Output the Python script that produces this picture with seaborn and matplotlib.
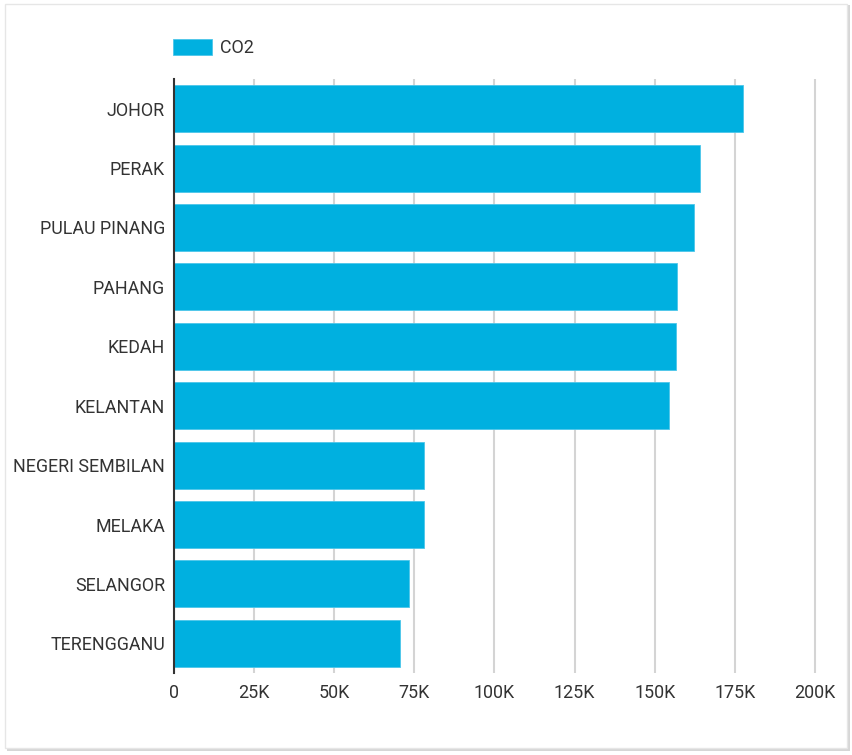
import matplotlib
matplotlib.use("Agg")
import matplotlib.pyplot as plt
import matplotlib.patches as mpatches
import seaborn as sns
import pandas as pd
from matplotlib.ticker import FuncFormatter

states = ["JOHOR", "PERAK", "PULAU PINANG", "PAHANG", "KEDAH", "KELANTAN",
          "NEGERI SEMBILAN", "MELAKA", "SELANGOR", "TERENGGANU"]
co2 = [177600, 164100, 162200, 157000, 156600, 154600, 77900, 77900, 73200, 70400]
series_name = "CO2"

df = pd.DataFrame({"state": states, "value": co2})

sns.set_theme(style="white")
plt.rcParams["font.family"] = ["Roboto", "DejaVu Sans"]

W, H = 852, 755
fig = plt.figure(figsize=(W / 100, H / 100), dpi=100)
fig.patch.set_facecolor("white")

# card with shadow
shadow = mpatches.Rectangle((7 / W, 1 - 751 / H), 843 / W, 746 / H, transform=fig.transFigure,
                            facecolor="#d6d6d6", edgecolor="none", zorder=0)
card = mpatches.Rectangle((5 / W, 1 - 748 / H), 842 / W, 744 / H, transform=fig.transFigure,
                          facecolor="white", edgecolor="#e6e6e6", linewidth=1, zorder=1)
fig.patches.extend([shadow, card])

left, right, top, bottom = 174, 825, 79, 673
ax = fig.add_axes([left / W, 1 - bottom / H, (right - left) / W, (bottom - top) / H])
ax.set_facecolor("none")
ax.set_zorder(2)

color = "#00b0e0"
sns.barplot(data=df, x="value", y="state", orient="h", color=color, saturation=1,
            width=0.79, ax=ax, edgecolor="#4cc6ea", linewidth=0.6)

scale = (815 - 174) / 200000
ax.set_xlim(0, (right - left) / scale)
ax.set_xticks(list(range(0, 200001, 25000)))
ax.xaxis.set_major_formatter(FuncFormatter(lambda v, p: "0" if v == 0 else f"{int(v/1000)}K"))
ax.grid(axis="x", color="#d4d4d4", linewidth=1.5)
ax.set_axisbelow(True)
for s in ["top", "right", "bottom"]:
    ax.spines[s].set_visible(False)
ax.spines["left"].set_color("#333333")
ax.spines["left"].set_linewidth(1.5)
ax.set_xlabel("")
ax.set_ylabel("")
ax.tick_params(axis="both", length=0, labelsize=12.9, labelcolor="#333333")
ax.tick_params(axis="y", pad=6.5)
ax.tick_params(axis="x", pad=8)

# legend
leg = ax.legend(handles=[mpatches.Patch(facecolor=color, edgecolor="#4cc6ea", linewidth=0.6, label=series_name)],
                loc="lower left", bbox_to_anchor=(173 / W, 1 - 57 / H), bbox_transform=fig.transFigure,
                frameon=False, fontsize=12.9, handlelength=2.2, handleheight=1.05,
                handletextpad=0.45, borderaxespad=0, borderpad=0)
for t in leg.get_texts():
    t.set_color("#333333")

fig.savefig("out.png", dpi=100)
